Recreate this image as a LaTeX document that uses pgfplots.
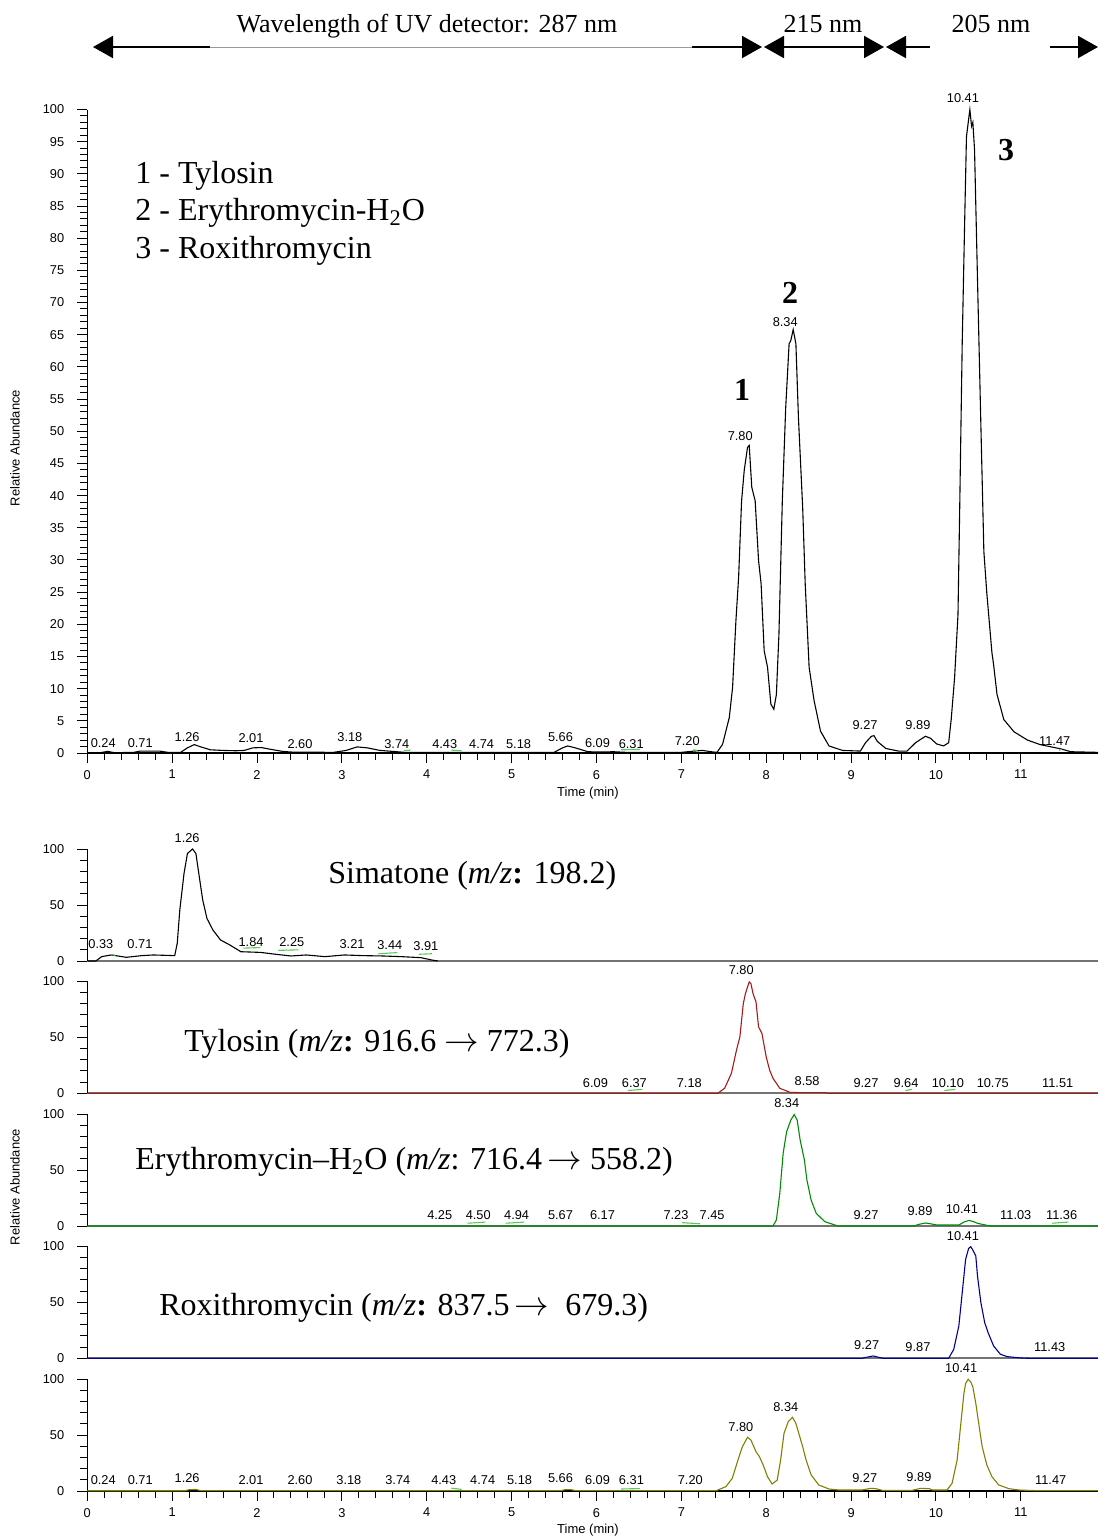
\documentclass[border=0pt]{standalone}
\usepackage{fontspec}
\setmainfont{Liberation Serif}
\setsansfont{Liberation Sans}
\usepackage{pgfplots}
\pgfplotsset{compat=1.18}
\usetikzlibrary{arrows.meta}

\newcommand{\sm}{\fontsize{6.4}{7}\selectfont\sffamily}
\definecolor{tyl}{rgb}{0.65,0.1,0.1}
\definecolor{ery}{rgb}{0.0,0.55,0.0}
\definecolor{rox}{rgb}{0.0,0.0,0.55}
\definecolor{olv}{rgb}{0.5,0.5,0.0}
\definecolor{mk}{rgb}{0.35,0.78,0.35}

\tikzset{pk/.style={font=\sm, inner sep=0pt, anchor=center}}
\pgfplotsset{
  chrom/.style={
    scale only axis, width=505.35pt, xmin=0, xmax=11.91, ymin=0, ymax=100,
    axis x line*=bottom, axis y line*=left,
    tick align=outside,
    major tick length=5pt, minor tick length=3.5pt,
    tick style={black, line width=0.5pt},
    axis line style={line width=0.6pt},
    tick label style={font=\sm},
    yticklabel style={xshift=-3pt},
    /pgf/number format/assume math mode=true,
    clip=false, anchor=south west,
    every axis plot/.append style={line width=0.55pt, mark=none},
  },
  mid/.style={chrom, height=56pt, xtick=\empty, ytick={0,50,100}, minor y tick num=4,
    x axis line style={black!55, line width=1pt}},
}

\begin{document}
\begin{tikzpicture}
\path[use as bounding box] (0,0) rectangle (549pt,-768.5pt);

% ---------- header ----------
\node[font=\fontsize{13}{15}\selectfont, anchor=base] at (213.5pt,-16pt) {Wavelength of UV detector: 287 nm};
\node[font=\fontsize{13}{15}\selectfont, anchor=base] at (411.5pt,-16pt) {215 nm};
\node[font=\fontsize{13}{15}\selectfont, anchor=base] at (495.5pt,-16pt) {205 nm};
\draw[line width=1pt, {Triangle[length=10pt,width=11pt]}-] (46.5pt,-23.5pt) -- (105pt,-23.5pt);
\draw[line width=0.4pt, black!40] (105pt,-23.5pt) -- (346pt,-23.5pt);
\draw[line width=1pt, -{Triangle[length=10pt,width=11pt]}] (346pt,-23.5pt) -- (381pt,-23.5pt);
\draw[line width=1pt, {Triangle[length=10pt,width=11pt]}-{Triangle[length=10pt,width=11pt]}] (382pt,-23.5pt) -- (442pt,-23.5pt);
\draw[line width=1pt, {Triangle[length=10pt,width=11pt]}-] (443pt,-23.5pt) -- (465pt,-23.5pt);
\draw[line width=1pt, -{Triangle[length=10pt,width=11pt]}] (525pt,-23.5pt) -- (549pt,-23.5pt);

% ---------- top UV chromatogram ----------
\begin{axis}[chrom, at={(43.65pt,-376.5pt)}, height=321.75pt,
  ytick distance=5, minor y tick num=4, xtick={0,...,11}, minor x tick num=4]
\addplot[black] coordinates {
(0,0) (0.15,0.05) (0.24,0.25) (0.32,0.05) (0.55,0.1) (0.62,0.3) (0.85,0.3) (0.95,0.1)
(1.1,0.1) (1.18,0.8) (1.26,1.3) (1.35,0.9) (1.45,0.5) (1.6,0.4) (1.75,0.35) (1.85,0.4)
(1.95,0.8) (2.05,0.85) (2.15,0.6) (2.3,0.25) (2.4,0.15) (2.9,0.1) (3.05,0.4) (3.18,0.95)
(3.3,0.8) (3.45,0.4) (3.6,0.25) (3.74,0.1) (4.3,0.1) (5.5,0.1) (5.6,0.8) (5.66,1.1)
(5.75,0.8) (5.9,0.2) (6.05,0.15) (6.2,0.2) (6.35,0.1) (7.0,0.1) (7.15,0.3) (7.25,0.4)
(7.35,0.2) (7.42,0.1) (7.486,1.35) (7.565,5.5) (7.604,10.2) (7.643,20.5) (7.675,27.3)
(7.71,39.2) (7.741,43.9) (7.78,47.5) (7.80,47.8) (7.83,41.3) (7.87,39.2) (7.91,29.9)
(7.94,26.3) (7.976,15.9) (8.016,13.3) (8.055,7.6) (8.09,6.8) (8.12,9.1) (8.15,18.4)
(8.19,39.2) (8.23,53.7) (8.27,63.6) (8.29,64.1) (8.318,65.8) (8.35,63.6) (8.38,52.1)
(8.43,38.1) (8.46,26.2) (8.506,13.3) (8.565,8.1) (8.64,3.4) (8.74,1.1) (8.90,0.4)
(9.11,0.3) (9.17,1.6) (9.24,2.6) (9.27,2.7) (9.31,1.8) (9.41,0.7) (9.56,0.3) (9.66,0.3)
(9.76,1.6) (9.876,2.6) (9.935,2.3) (10.01,1.4) (10.09,1.1) (10.15,1.6) (10.18,5.2)
(10.22,11.7) (10.26,21.5) (10.28,37.8) (10.31,63.8) (10.34,83.4) (10.36,95.8) (10.40,100)
(10.42,97.4) (10.435,98) (10.455,93.8) (10.49,73.6) (10.53,50.8) (10.565,31.3) (10.60,24.8)
(10.66,15.6) (10.68,13.7) (10.72,9.1) (10.80,5.2) (10.92,3.3) (11.08,2.0) (11.23,1.3)
(11.47,0.65) (11.59,0.2) (11.91,0.1)};
\addplot[mk] coordinates {(3.73,0.35) (3.81,0.45)};
\addplot[mk] coordinates {(4.29,0.45) (4.41,0.35)};
\addplot[mk] coordinates {(6.29,0.5) (6.51,0.55)};
\addplot[mk] coordinates {(7.14,0.5) (7.19,0.4)};
\addplot[mk] coordinates {(11.45,0.4) (11.48,0.6)};
\node[pk] at (0.188,1.56) {0.24};
\node[pk] at (0.624,1.56) {0.71};
\node[pk] at (1.176,2.5) {1.26};
\node[pk] at (1.929,2.33) {2.01};
\node[pk] at (2.506,1.4) {2.60};
\node[pk] at (3.094,2.5) {3.18};
\node[pk] at (3.647,1.4) {3.74};
\node[pk] at (4.212,1.4) {4.43};
\node[pk] at (4.647,1.4) {4.74};
\node[pk] at (5.082,1.4) {5.18};
\node[pk] at (5.576,2.5) {5.66};
\node[pk] at (6.012,1.56) {6.09};
\node[pk] at (6.41,1.4) {6.31};
\node[pk] at (7.07,1.87) {7.20};
\node[pk] at (7.694,49.3) {7.80};
\node[pk] at (8.224,67.0) {8.34};
\node[pk] at (9.165,4.35) {9.27};
\node[pk] at (9.788,4.35) {9.89};
\node[pk] at (10.318,101.7) {10.41};
\node[pk] at (11.4,1.87) {11.47};
\end{axis}

% ---------- Simatone ----------
\begin{axis}[mid, at={(43.65pt,-480.5pt)}]
\addplot[black] coordinates {
(0.01,0) (0.1,0) (0.17,3.9) (0.28,5.4) (0.46,3.3) (0.64,4.8) (0.78,5.4) (1.03,4.8)
(1.06,15.8) (1.09,45.5) (1.14,78.3) (1.18,96) (1.24,100) (1.28,96) (1.32,75) (1.36,54.5)
(1.41,38) (1.48,27.7) (1.57,18.8) (1.68,14.3) (1.81,8.3) (2.04,7.7) (2.22,6) (2.40,4.5)
(2.58,5.4) (2.80,3.9) (3.03,5.4) (3.25,4.8) (3.48,4.5) (3.70,3.9) (3.93,3) (4.06,0.9) (4.13,0)};
\addplot[mk] coordinates {(0.28,6) (0.33,5)};
\addplot[mk] coordinates {(1.84,11.5) (2.04,12)};
\addplot[mk] coordinates {(2.25,9.5) (2.49,10)};
\addplot[mk] coordinates {(3.43,6.5) (3.65,7.5)};
\addplot[mk] coordinates {(3.91,6) (4.06,6.5)};
\node[pk] at (1.176,110) {1.26};
\node[pk] at (0.16,15) {0.33};
\node[pk] at (0.62,15.5) {0.71};
\node[pk] at (1.93,17) {1.84};
\node[pk] at (2.41,17) {2.25};
\node[pk] at (3.12,15.5) {3.21};
\node[pk] at (3.565,14) {3.44};
\node[pk] at (3.99,13) {3.91};
\end{axis}

% ---------- Tylosin ----------
\begin{axis}[mid, at={(43.65pt,-546.65pt)}]
\addplot[tyl] coordinates {
(0,0) (7.43,0) (7.51,4.5) (7.59,17.8) (7.65,38.6) (7.69,50.4) (7.73,80) (7.755,89)
(7.80,99.5) (7.82,98) (7.845,89) (7.88,81.6) (7.91,59.3) (7.95,53.4) (8.00,32.6)
(8.04,20.8) (8.08,13.4) (8.16,4.5) (8.28,0.9) (8.40,0.6) (8.69,0.6) (8.73,0) (11.91,0)};
\addplot[mk] coordinates {(6.37,2.5) (6.54,3.5)};
\addplot[mk] coordinates {(9.64,2.5) (9.72,3.5)};
\addplot[mk] coordinates {(10.10,2.5) (10.23,3.5)};
\node[pk] at (7.706,109.8) {7.80};
\node[pk] at (5.988,8.9) {6.09};
\node[pk] at (6.447,8.9) {6.37};
\node[pk] at (7.094,8.9) {7.18};
\node[pk] at (8.482,10.7) {8.58};
\node[pk] at (9.176,8.9) {9.27};
\node[pk] at (9.647,8.9) {9.64};
\node[pk] at (10.141,8.9) {10.10};
\node[pk] at (10.67,8.9) {10.75};
\node[pk] at (11.435,8.9) {11.51};
\end{axis}

% ---------- Erythromycin-H2O ----------
\begin{axis}[mid, at={(43.65pt,-613pt)}]
\addplot[ery] coordinates {
(0,0) (8.08,0) (8.12,5.4) (8.16,29) (8.20,65) (8.24,84) (8.29,94.6) (8.33,99.5)
(8.365,94.6) (8.40,76.8) (8.45,59) (8.48,41) (8.53,23) (8.59,11.3) (8.69,3.9) (8.81,0.9)
(8.85,0) (9.74,0) (9.80,1.5) (9.88,2.7) (9.95,1.8) (10.01,0.9) (10.27,0.9) (10.33,3.5)
(10.39,5) (10.44,4) (10.49,2.4) (10.64,0) (11.91,0)};
\addplot[mk] coordinates {(4.48,2.5) (4.69,3.5)};
\addplot[mk] coordinates {(4.93,2.5) (5.15,3.5)};
\addplot[mk] coordinates {(7.01,3) (7.22,2)};
\addplot[mk] coordinates {(11.37,2.5) (11.56,3.5)};
\node[pk] at (8.242,109.8) {8.34};
\node[pk] at (4.153,9.8) {4.25};
\node[pk] at (4.607,9.8) {4.50};
\node[pk] at (5.059,9.8) {4.94};
\node[pk] at (5.576,9.8) {5.67};
\node[pk] at (6.071,9.8) {6.17};
\node[pk] at (6.937,9.8) {7.23};
\node[pk] at (7.363,9.8) {7.45};
\node[pk] at (9.176,9.8) {9.27};
\node[pk] at (9.812,13.4) {9.89};
\node[pk] at (10.306,15.2) {10.41};
\node[pk] at (10.941,9.8) {11.03};
\node[pk] at (11.482,9.8) {11.36};
\end{axis}

% ---------- Roxithromycin ----------
\begin{axis}[mid, at={(43.65pt,-679.15pt)}]
\addplot[rox] coordinates {
(0,0) (9.13,0) (9.2,1.2) (9.26,2.1) (9.34,0.6) (9.38,0) (10.15,0) (10.21,8) (10.27,28.9)
(10.31,58.6) (10.35,88.4) (10.385,98) (10.41,99.7) (10.43,97.3) (10.47,91.4) (10.49,73.5)
(10.53,49.7) (10.575,31.8) (10.615,22.9) (10.68,11) (10.76,3.6) (10.84,1.5) (11.0,0.3)
(11.1,0) (11.91,0)};
\node[pk] at (10.318,108.9) {10.41};
\node[pk] at (9.184,11.6) {9.27};
\node[pk] at (9.788,9.8) {9.87};
\node[pk] at (11.341,9.8) {11.43};
\end{axis}

% ---------- bottom (olive) ----------
\begin{axis}[chrom, at={(43.65pt,-745.5pt)}, height=56pt,
  ytick={0,50,100}, minor y tick num=4, xtick={0,...,11}, minor x tick num=4]
\addplot[olv] coordinates {
(0,0.2) (1.15,0.2) (1.2,1.2) (1.28,1.4) (1.34,0.3) (5.58,0.3) (5.63,1.2) (5.7,1.2)
(5.76,0.3) (7.41,0.3) (7.525,3.9) (7.60,11.3) (7.68,30.7) (7.72,39.6) (7.78,48) (7.82,45.5)
(7.88,35.1) (7.92,30.7) (7.965,23.2) (8.015,12.8) (8.07,6.25) (8.13,9.8) (8.17,27.7)
(8.21,51.5) (8.26,61.9) (8.31,65.8) (8.35,60.4) (8.39,50) (8.43,39.6) (8.47,27.7)
(8.53,14.3) (8.62,5.4) (8.74,1.8) (8.86,0.9) (9.13,0.9) (9.23,2.4) (9.29,2.1) (9.37,0.6)
(9.72,0.6) (9.82,2.4) (9.92,2.1) (9.96,0.9) (10.13,0.9) (10.19,6.8) (10.25,27.7) (10.29,57.5)
(10.33,87.2) (10.35,96) (10.38,99.7) (10.41,97.6) (10.435,93) (10.47,78.3) (10.51,57.4)
(10.545,39.6) (10.60,23.2) (10.66,12.8) (10.74,5.4) (10.86,2.1) (10.98,0.9) (11.2,0.3) (11.91,0.3)};
\addplot[mk] coordinates {(4.29,2.5) (4.41,1.5)};
\addplot[mk] coordinates {(6.29,1.8) (6.51,2.2)};
\node[pk] at (0.188,9.8) {0.24};
\node[pk] at (0.624,9.8) {0.71};
\node[pk] at (1.176,11.6) {1.26};
\node[pk] at (1.929,9.8) {2.01};
\node[pk] at (2.506,9.8) {2.60};
\node[pk] at (3.082,9.8) {3.18};
\node[pk] at (3.659,9.8) {3.74};
\node[pk] at (4.2,9.8) {4.43};
\node[pk] at (4.659,9.8) {4.74};
\node[pk] at (5.094,9.8) {5.18};
\node[pk] at (5.576,11.6) {5.66};
\node[pk] at (6.012,9.8) {6.09};
\node[pk] at (6.412,9.8) {6.31};
\node[pk] at (7.106,9.8) {7.20};
\node[pk] at (7.702,57.4) {7.80};
\node[pk] at (8.231,75.3) {8.34};
\node[pk] at (9.161,11.9) {9.27};
\node[pk] at (9.8,12.5) {9.89};
\node[pk] at (10.298,109.8) {10.41};
\node[pk] at (11.353,9.8) {11.47};
\end{axis}

% ---------- annotations ----------
\begin{scope}[every node/.style={font=\fontsize{16}{18}\selectfont, inner sep=0pt}]
\node[anchor=west] at (67.5pt,-88pt) {1 - Tylosin};
\node[anchor=west] at (67.5pt,-106.5pt) {2 - Erythromycin-H\textsubscript{2}O};
\node[anchor=west] at (67.5pt,-125.5pt) {3 - Roxithromycin};
\node at (371pt,-195pt) {\textbf{1}};
\node at (395pt,-146.5pt) {\textbf{2}};
\node at (503pt,-75pt) {\textbf{3}};
\node[anchor=west] at (164pt,-438pt) {Simatone (\textit{m/z}\textbf{:} 198.2)};
\node[anchor=west] at (92pt,-522pt) {Tylosin (\textit{m/z}\textbf{:} 916.6 $\rightarrow$ 772.3)};
\node[anchor=west] at (67.5pt,-581pt) {Erythromycin--H\textsubscript{2}O (\textit{m/z}: 716.4\,$\rightarrow$ 558.2)};
\node[anchor=west] at (79.5pt,-654pt) {Roxithromycin (\textit{m/z}\textbf{:} 837.5\,$\rightarrow$\ \ 679.3)};
\end{scope}

\node[font=\fontsize{6.5}{7}\selectfont\sffamily, rotate=90] at (7.5pt,-224pt) {Relative Abundance};
\node[font=\fontsize{6.5}{7}\selectfont\sffamily, rotate=90] at (7.5pt,-593.5pt) {Relative Abundance};
\node[font=\fontsize{6.5}{7}\selectfont\sffamily] at (294pt,-396.5pt) {Time (min)};
\node[font=\fontsize{6.5}{7}\selectfont\sffamily] at (294pt,-765pt) {Time (min)};
\end{tikzpicture}
\end{document}
